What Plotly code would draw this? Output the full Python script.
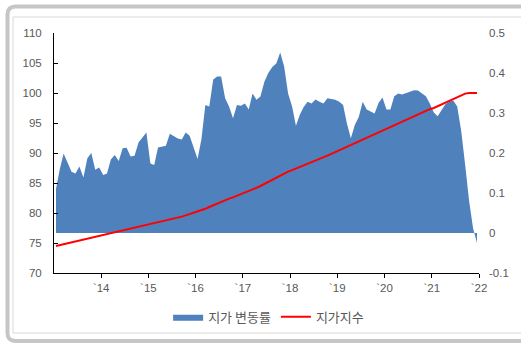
import pandas as pd
import plotly.graph_objects as go

# Monthly land-price change rate (%), Jan 2013 - Dec 2021
rate = [
    0.110, 0.160, 0.199, 0.178, 0.153, 0.149, 0.166, 0.139, 0.187, 0.200, 0.158, 0.164,
    0.145, 0.149, 0.184, 0.195, 0.180, 0.212, 0.213, 0.191, 0.193, 0.226, 0.238, 0.251,
    0.174, 0.170, 0.214, 0.216, 0.218, 0.248, 0.243, 0.236, 0.234, 0.251, 0.243, 0.215,
    0.185, 0.235, 0.320, 0.316, 0.384, 0.391, 0.391, 0.337, 0.316, 0.287, 0.320, 0.318,
    0.324, 0.309, 0.349, 0.333, 0.341, 0.378, 0.400, 0.415, 0.424, 0.451, 0.416, 0.349,
    0.316, 0.268, 0.295, 0.315, 0.328, 0.324, 0.334, 0.328, 0.324, 0.337, 0.335, 0.333,
    0.328, 0.320, 0.274, 0.237, 0.270, 0.290, 0.328, 0.309, 0.304, 0.299, 0.325, 0.339,
    0.309, 0.309, 0.342, 0.349, 0.346, 0.350, 0.354, 0.357, 0.356, 0.349, 0.342, 0.324,
    0.301, 0.292, 0.307, 0.322, 0.328, 0.331, 0.316, 0.255, 0.170, 0.080, 0.012, -0.025,
]

# Monthly land-price index
index = [
    74.50, 74.65, 74.80, 74.95, 75.10, 75.25, 75.40, 75.55, 75.70, 75.85, 76.00, 76.15,
    76.30, 76.45, 76.60, 76.75, 76.90, 77.05, 77.20, 77.35, 77.50, 77.65, 77.80, 77.95,
    78.10, 78.25, 78.40, 78.55, 78.70, 78.85, 79.00, 79.20, 79.40, 79.60, 79.80, 80.00,
    80.20, 80.45, 80.70, 81.00, 81.30, 81.60, 81.90, 82.15, 82.40, 82.60, 82.85, 83.10,
    83.35, 83.60, 83.90, 84.20, 84.50, 84.85, 85.20, 85.55, 85.90, 86.25, 86.60, 86.90,
    87.15, 87.40, 87.65, 87.90, 88.20, 88.45, 88.75, 89.00, 89.30, 89.55, 89.85, 90.15,
    90.45, 90.75, 91.00, 91.25, 91.60, 91.90, 92.25, 92.55, 92.85, 93.15, 93.45, 93.75,
    94.05, 94.35, 94.65, 94.95, 95.25, 95.55, 95.85, 96.15, 96.45, 96.75, 97.00, 97.30,
    97.50, 97.80, 98.10, 98.40, 98.70, 99.00, 99.30, 99.60, 99.90, 100.00, 100.00, 100.00,
]

months = pd.date_range("2013-01-01", periods=len(rate), freq="MS")

year_ticks = [f"{y}-01-01" for y in range(2014, 2023)]
year_labels = ["`14", "`15", "`16", "`17", "`18", "`19", "`20", "`21", "`22"]

rate_ticks = [-0.1, 0, 0.1, 0.2, 0.3, 0.4, 0.5]
rate_labels = ["-0.1", "0", "0.1", "0.2", "0.3", "0.4", "0.5"]

W, H = 521, 345
ML, MR, MT, MB = 54, 42, 33, 72
PW, PH = W - ML - MR, H - MT - MB

TICK_FONT = dict(family="Liberation Sans, Arial, sans-serif", size=11.5, color="#595959")
BLUE = "#4f81bd"
RED = "#ff0000"


def px(x, y):
    """Pixel position -> paper coordinates."""
    return (x - ML) / PW, (H - MB - y) / PH


def path(points):
    parts = []
    for cmd, pts in points:
        coords = " ".join("%.5f,%.5f" % px(*p) for p in pts)
        parts.append(f"{cmd}{coords}")
    return " ".join(parts)


fig = go.Figure()

fig.add_trace(go.Scatter(
    x=months, y=rate, name="지가 변동률",
    mode="lines", fill="tozeroy",
    line=dict(width=0, color=BLUE), fillcolor=BLUE,
    xperiod="M1", xperiodalignment="middle",
    yaxis="y",
))

fig.add_trace(go.Scatter(
    x=months, y=index, name="지가지수",
    mode="lines", line=dict(width=2, color=RED),
    xperiod="M1", xperiodalignment="middle",
    yaxis="y2",
))

# Outer rounded frame and inner thin border
outer = path([
    ("M", [(535, 6.5)]),
    ("L", [(15.5, 6.5)]),
    ("Q", [(7.5, 6.5), (7.5, 14.5)]),
    ("L", [(7.5, 333)]),
    ("Q", [(7.5, 341), (15.5, 341)]),
    ("L", [(535, 341)]),
])
x0, y0 = px(13, 17)
x1, y1 = px(535, 333)

fig.update_layout(
    width=W, height=H,
    margin=dict(l=ML, r=MR, t=MT, b=MB, autoexpand=False),
    paper_bgcolor="white", plot_bgcolor="white",
    showlegend=True,
    legend=dict(
        orientation="h", x=0.505, xanchor="center", y=-0.183, yanchor="middle",
        font=dict(family="Noto Sans CJK KR, sans-serif", size=13, color="#595959"),
        traceorder="normal", bgcolor="rgba(0,0,0,0)",
    ),
    xaxis=dict(
        type="date", range=["2013-01-01", "2022-01-01"],
        tickvals=year_ticks, ticktext=year_labels,
        showline=True, linecolor="black", linewidth=1,
        ticks="outside", ticklen=4, tickcolor="black",
        showgrid=False, zeroline=False, tickfont=TICK_FONT,
    ),
    yaxis=dict(
        side="right", range=[-0.1, 0.5],
        tickvals=rate_ticks, ticktext=rate_labels,
        showline=False, ticks="", showgrid=False, zeroline=False,
        tickfont=TICK_FONT, ticklabelstandoff=9,
    ),
    yaxis2=dict(
        side="left", overlaying="y", anchor="x", range=[70, 110], dtick=5,
        showline=True, linecolor="black", linewidth=1,
        ticks="inside", ticklen=4, tickcolor="black",
        showgrid=False, zeroline=False,
        tickfont=TICK_FONT, ticklabelstandoff=9,
    ),
    shapes=[
        dict(type="path", xref="paper", yref="paper", path=outer,
             line=dict(color="#c6c6c6", width=4), layer="above"),
        dict(type="rect", xref="paper", yref="paper", x0=x0, y0=y0, x1=x1, y1=y1,
             line=dict(color="#d9d9d9", width=1), layer="above"),
    ],
)

fig.write_html("out.html")
